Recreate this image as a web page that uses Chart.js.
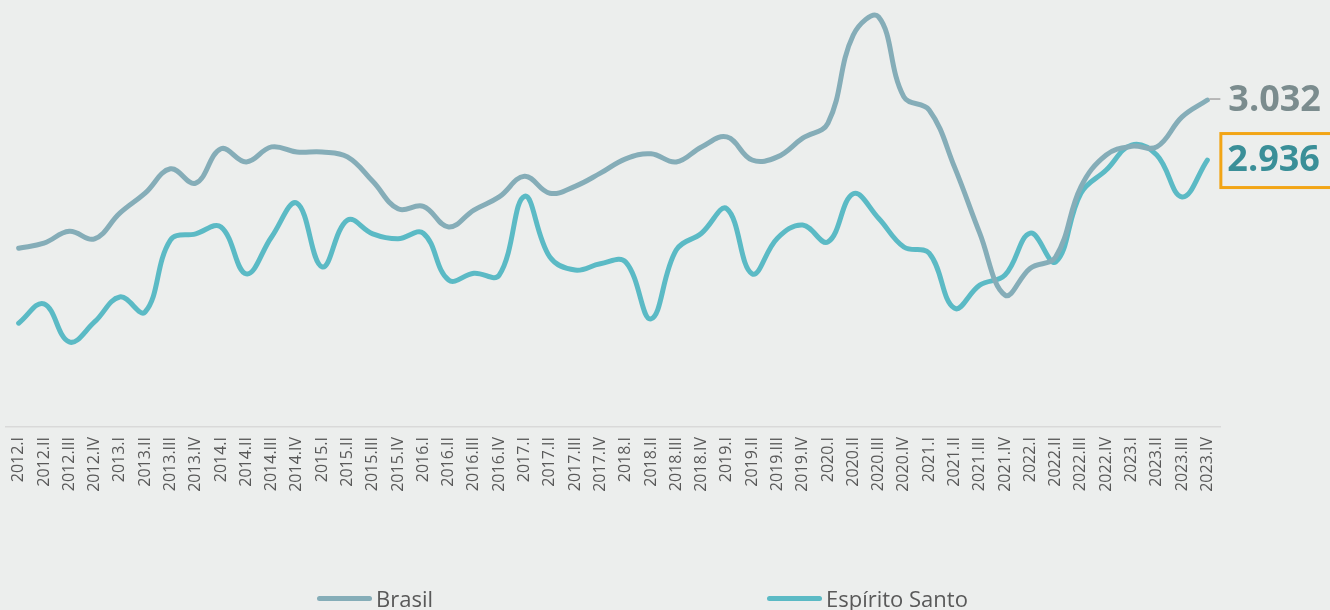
<!DOCTYPE html>
<html>
<head>
<meta charset="utf-8">
<script src="https://cdn.jsdelivr.net/npm/chart.js@4.4.0/dist/chart.umd.min.js"></script>
<style>
  html, body { margin: 0; padding: 0; background: #eceeed; }
  #wrap { position: relative; width: 1330px; height: 610px; }
  #legend { position: absolute; top: 586px; left: 0; width: 1330px; height: 24px;
            font-family: "Open Sans"; font-size: 22px; color: #595959; line-height: 24px; }
  .item { position: absolute; top: 0; display: flex; align-items: center; }
  .swatch { width: 55px; height: 5px; border-radius: 3px; margin-right: 4px; }
</style>
</head>
<body>
<div id="wrap">
  <canvas id="chart" width="1330" height="610"></canvas>
  <div id="legend">
    <div class="item" style="left:317px"><span class="swatch" style="background:#85adb8"></span>Brasil</div>
    <div class="item" style="left:767px"><span class="swatch" style="background:#5bbac5"></span>Espírito Santo</div>
  </div>
</div>
<script>
// quarters 2012.I .. 2023.IV
const quarters = [
  "2012.I","2012.II","2012.III","2012.IV","2013.I","2013.II","2013.III","2013.IV",
  "2014.I","2014.II","2014.III","2014.IV","2015.I","2015.II","2015.III","2015.IV",
  "2016.I","2016.II","2016.III","2016.IV","2017.I","2017.II","2017.III","2017.IV",
  "2018.I","2018.II","2018.III","2018.IV","2019.I","2019.II","2019.III","2019.IV",
  "2020.I","2020.II","2020.III","2020.IV","2021.I","2021.II","2021.III","2021.IV",
  "2022.I","2022.II","2022.III","2022.IV","2023.I","2023.II","2023.III","2023.IV"
];

const brasil = [
  2795, 2803, 2822, 2810, 2851, 2883, 2922, 2899,
  2954, 2933, 2957, 2949, 2949, 2941, 2902, 2858,
  2862, 2829, 2856, 2877, 2910, 2883, 2894, 2915,
  2938, 2946, 2933, 2957, 2973, 2936, 2941, 2971,
  2995, 3136, 3165, 3037, 3016, 2925, 2819, 2720,
  2763, 2781, 2893, 2944, 2958, 2957, 3005, 3032
];

const espiritoSanto = [
  2675, 2706, 2645, 2677, 2717, 2693, 2808, 2818,
  2829, 2754, 2813, 2867, 2765, 2840, 2818, 2810,
  2819, 2744, 2755, 2752, 2878, 2781, 2760, 2770,
  2773, 2682, 2792, 2819, 2858, 2754, 2811, 2832,
  2805, 2882, 2843, 2797, 2787, 2699, 2736, 2752,
  2819, 2773, 2883, 2920, 2960, 2944, 2877, 2936
];

const fmt = v => String(v).replace(/\B(?=(\d{3})+(?!\d))/g, ".");

// labels at the end of both lines
const endLabels = {
  id: "endLabels",
  afterDatasetsDraw(chart) {
    const ctx = chart.ctx;
    const pB = chart.getDatasetMeta(0).data[brasil.length - 1];
    const pE = chart.getDatasetMeta(1).data[espiritoSanto.length - 1];
    ctx.save();
    ctx.font = 'bold 36px "Open Sans"';
    ctx.textBaseline = "middle";
    ctx.textAlign = "left";

    ctx.strokeStyle = "#a6a6a6";
    ctx.lineWidth = 1.5;
    ctx.beginPath();
    ctx.moveTo(pB.x + 2, pB.y - 1);
    ctx.lineTo(pB.x + 13, pB.y - 1);
    ctx.stroke();
    ctx.fillStyle = "#7b8c8e";
    ctx.fillText(fmt(brasil[brasil.length - 1]), pB.x + 21, pB.y + 1);

    ctx.strokeStyle = "#f2a516";
    ctx.lineWidth = 3;
    ctx.strokeRect(pE.x + 13.5, pE.y - 26.5, 200, 54);
    ctx.fillStyle = "#3a8f98";
    ctx.fillText(fmt(espiritoSanto[espiritoSanto.length - 1]), pE.x + 20, pE.y + 1);
    ctx.restore();
  }
};

new Chart(document.getElementById("chart"), {
  type: "line",
  data: {
    labels: quarters,
    datasets: [
      { label: "Brasil", data: brasil, borderColor: "#85adb8" },
      { label: "Espírito Santo", data: espiritoSanto, borderColor: "#5bbac5" }
    ]
  },
  options: {
    responsive: false,
    animation: false,
    elements: {
      line: { borderWidth: 5, tension: 0.4, borderCapStyle: "round", borderJoinStyle: "round" },
      point: { radius: 0 }
    },
    datasets: { line: { clip: false } },
    layout: { padding: { left: 6, right: 110, top: 10, bottom: 83 } },
    plugins: { legend: { display: false }, tooltip: { enabled: false } },
    scales: {
      x: {
        offset: true,
        grid: { display: false },
        border: { color: "#d9d9d9", width: 1.5 },
        ticks: {
          autoSkip: false, minRotation: 90, maxRotation: 90, padding: 2,
          color: "#595959", font: { family: "Open Sans", size: 16 }
        },
        afterFit(scale) { scale.height = 100; }
      },
      y: { display: false, min: 2509, max: 3176 }
    }
  },
  plugins: [endLabels]
});
</script>
</body>
</html>
